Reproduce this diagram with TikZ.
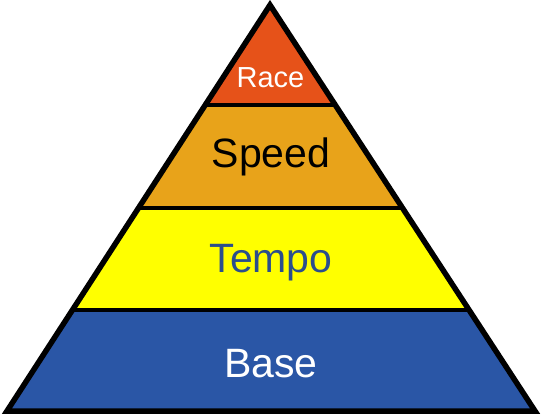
\documentclass[tikz,border=0pt]{standalone}
\usepackage{fontspec}
\setmainfont{Liberation Sans}
\definecolor{racec}{HTML}{E65219}
\definecolor{speedc}{HTML}{E8A31A}
\definecolor{tempoc}{HTML}{FFFF00}
\definecolor{basec}{HTML}{2A56A6}
\definecolor{tempotxt}{HTML}{2B4E8C}
\begin{document}
\begin{tikzpicture}[x=1bp,y=-1bp,
  edge/.style={line width=5.5bp,line join=miter},
  lbl/.style={anchor=base,inner sep=0pt}]
\useasboundingbox (0,0) rectangle (542,418);
\coordinate (apex) at (270,5);
\coordinate (bl) at (7,411);
\coordinate (br) at (535,411);
\begin{scope}
\clip (apex) -- (bl) -- (br) -- cycle;
\fill[racec] (0,0) rectangle (542,105);
\fill[speedc] (0,105) rectangle (542,208);
\fill[tempoc] (0,208) rectangle (542,310);
\fill[basec] (0,310) rectangle (542,418);
\draw[line width=4.5bp] (0,105) -- (542,105);
\draw[line width=4.5bp] (0,208) -- (542,208);
\draw[line width=4.5bp] (0,310) -- (542,310);
\end{scope}
\draw[edge] (apex) -- (bl) -- (br) -- cycle;
\node[lbl,text=white,font=\fontsize{29bp}{33bp}\selectfont] (race) at (270.5,87) {Race};
\node[lbl,text=black,font=\fontsize{41bp}{47bp}\selectfont] (speed) at (271,167) {Speed};
\node[lbl,text=tempotxt,font=\fontsize{41bp}{47bp}\selectfont] (tempo) at (271,272) {Tempo};
\node[lbl,text=white,font=\fontsize{41bp}{47bp}\selectfont] (base) at (271,377) {Base};
\end{tikzpicture}
\end{document}
